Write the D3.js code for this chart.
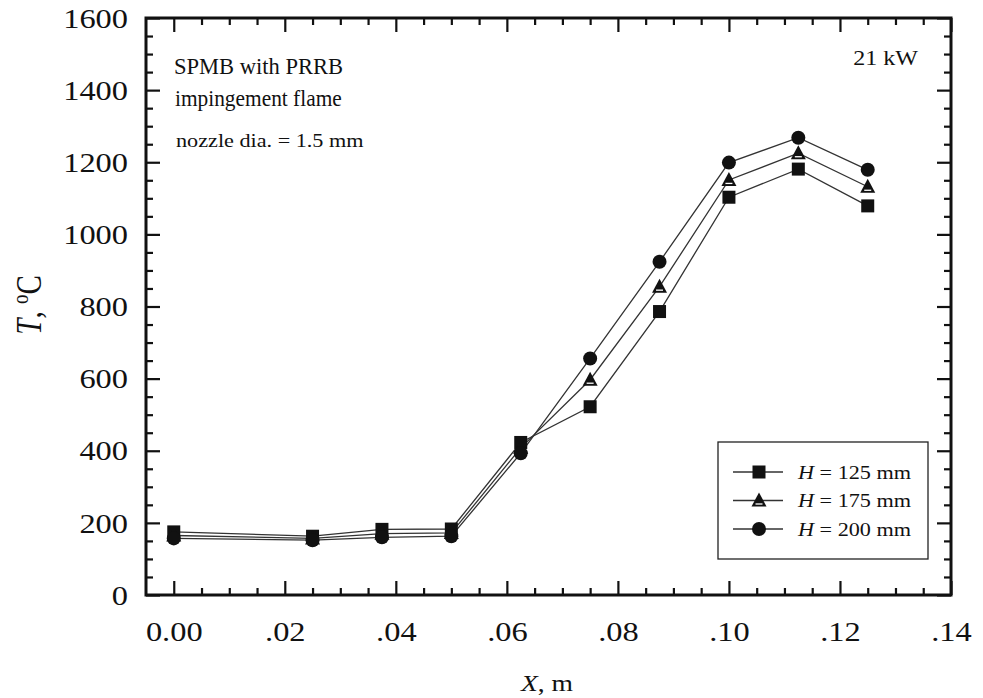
<!DOCTYPE html>
<html>
<head>
<meta charset="utf-8">
<script src="https://cdn.jsdelivr.net/npm/d3@7"></script>
<style>
  body { margin: 0; background: #fff; }
  text { font-family: "Liberation Serif", "DejaVu Serif", serif; fill: #111; }
</style>
</head>
<body>
<div class="painter"></div>
<script>
// positions along the burner, m
const xPos = [0, 0.025, 0.0375, 0.05, 0.0625, 0.075, 0.0875, 0.1, 0.1125, 0.125]
// temperatures, deg C
const tH125 = [175, 163, 182, 183, 423, 522, 786, 1103, 1181, 1079]
const tH175 = [165, 157, 170, 172, 408, 597, 855, 1151, 1225, 1132]
const tH200 = [157, 152, 160, 163, 393, 656, 924, 1199, 1268, 1179]
const seriesNames = ['125', '175', '200']
const seriesMarks = ['square', 'triangle', 'circle']

const xMajor = [0, 0.02, 0.04, 0.06, 0.08, 0.10, 0.12, 0.14]
const yMajor = [0, 200, 400, 600, 800, 1000, 1200, 1400, 1600]

const W = 983, H = 698
const plotL = 146, plotR = 951, plotT = 18, plotB = 595
const stretch = 1.2   // scanned text is a bit wide

let svg = d3.select('.painter')
    .append('svg:svg')
    .attr('width', W)
    .attr('height', H)

let x = d3.scaleLinear().domain([-0.005, 0.14]).range([plotL, plotR])
let y = d3.scaleLinear().domain([0, 1600]).range([plotB, plotT])

const xMinor = d3.range(0, 29).map(i => i * 0.005).filter(v => Math.abs(v / 0.02 - Math.round(v / 0.02)) > 1e-6)
const yMinor = d3.range(0, 33).map(i => i * 50).filter(v => v % 200 !== 0)

function xLabel(v) {
    if (v === 0) return '0.00'
    return d3.format('.2f')(v).replace(/^0/, '')
}

function addAxis(axis, tx, ty) {
    let g = svg.append('g')
        .attr('transform', `translate(${tx},${ty})`)
        .call(axis)
    g.select('.domain').remove()
    g.selectAll('line').attr('stroke', '#111').attr('stroke-width', 2.2)
    return g
}

// major ticks, inward
let gb = addAxis(d3.axisBottom(x).tickValues(xMajor).tickSize(-14).tickFormat(xLabel), 0, plotB)
addAxis(d3.axisBottom(x).tickValues(xMinor).tickSize(-7).tickFormat(''), 0, plotB)
addAxis(d3.axisTop(x).tickValues(xMajor).tickSize(-14).tickFormat(''), 0, plotT)
addAxis(d3.axisTop(x).tickValues(xMinor).tickSize(-7).tickFormat(''), 0, plotT)
let gl = addAxis(d3.axisLeft(y).tickValues(yMajor).tickSize(-14).tickFormat(d3.format('d')), plotL, 0)
addAxis(d3.axisLeft(y).tickValues(yMinor).tickSize(-7).tickFormat(''), plotL, 0)
addAxis(d3.axisRight(y).tickValues(yMajor).tickSize(-14).tickFormat(''), plotR, 0)
addAxis(d3.axisRight(y).tickValues(yMinor).tickSize(-7).tickFormat(''), plotR, 0)

gb.selectAll('text')
    .attr('y', 46).attr('dy', 0)
    .attr('font-size', 27)
    .attr('transform', `scale(${stretch},1)`)
gl.selectAll('text')
    .attr('x', -15).attr('dy', '0.34em')
    .attr('font-size', 27)
    .attr('transform', `scale(${stretch},1)`)
svg.selectAll('.tick text').attr('fill', '#111').attr('font-family', '"Liberation Serif", serif')

// frame
svg.append('rect')
    .attr('x', plotL).attr('y', plotT)
    .attr('width', plotR - plotL).attr('height', plotB - plotT)
    .attr('fill', 'none').attr('stroke', '#111').attr('stroke-width', 3)

function putText(str, px, py, size, sx = stretch, anchor = 'start') {
    return svg.append('text')
        .attr('transform', `translate(${px},${py}) scale(${sx},1)`)
        .attr('font-size', size)
        .attr('text-anchor', anchor)
        .text(str)
}

// axis titles
let xt = svg.append('text')
    .attr('transform', `translate(547,691) scale(${stretch},1)`)
    .attr('font-size', 23).attr('text-anchor', 'middle')
xt.append('tspan').attr('font-style', 'italic').text('X')
xt.append('tspan').text(', m')

let yt = svg.append('text')
    .attr('transform', `translate(41,305) rotate(-90) scale(1,${stretch})`)
    .attr('font-size', 29).attr('text-anchor', 'middle')
yt.append('tspan').attr('font-style', 'italic').text('T')
yt.append('tspan').text(', ')
yt.append('tspan').attr('font-size', 19).attr('dy', -11).text('o')
yt.append('tspan').attr('dy', 11).text('C')

// notes
putText('SPMB with PRRB', 174, 74, 23, 0.98)
putText('impingement flame', 175, 106, 23, 0.93)
putText('nozzle dia. = 1.5 mm', 176, 147, 18.5)
putText('21 kW', 918, 65, 20, stretch, 'end')

// series
const allSeries = [tH125, tH175, tH200]
let line = d3.line().x(d => x(d[0])).y(d => y(d[1]))

function drawMark(g, kind, cx, cy) {
    if (kind === 'square') {
        g.append('rect').attr('x', cx - 6.5).attr('y', cy - 6.5).attr('width', 13).attr('height', 13).attr('fill', '#111')
    } else if (kind === 'circle') {
        g.append('circle').attr('cx', cx).attr('cy', cy).attr('r', 7).attr('fill', '#111')
    } else {
        g.append('path')
            .attr('d', `M${cx} ${cy - 8} L${cx + 7.5} ${cy + 6} L${cx - 7.5} ${cy + 6} Z`)
            .attr('fill', '#111')
        g.append('line')
            .attr('x1', cx - 3.5).attr('x2', cx + 3.5).attr('y1', cy + 3.5).attr('y2', cy + 3.5)
            .attr('stroke', '#fff').attr('stroke-width', 1.3)
    }
}

allSeries.forEach(vals => {
    svg.append('path')
        .datum(xPos.map((v, i) => [v, vals[i]]))
        .attr('d', line)
        .attr('fill', 'none')
        .attr('stroke', '#333')
        .attr('stroke-width', 1.3)
})

allSeries.forEach((vals, k) => {
    let g = svg.append('g')
    xPos.forEach((v, i) => drawMark(g, seriesMarks[k], x(v), y(vals[i])))
})

// legend
svg.append('rect')
    .attr('x', 718).attr('y', 442).attr('width', 210).attr('height', 117)
    .attr('fill', '#fff').attr('stroke', '#222').attr('stroke-width', 1.3)

seriesNames.forEach((name, k) => {
    let cy = 472 + k * 28.5
    let g = svg.append('g')
    g.append('line').attr('x1', 733).attr('x2', 783).attr('y1', cy).attr('y2', cy)
        .attr('stroke', '#333').attr('stroke-width', 1.3)
    drawMark(g, seriesMarks[k], 759, cy)
    let t = svg.append('text')
        .attr('transform', `translate(798,${cy + 6.5}) scale(${stretch},1)`)
        .attr('font-size', 18.5)
    t.append('tspan').attr('font-style', 'italic').text('H')
    t.append('tspan').text(` = ${name} mm`)
})
</script>
</body>
</html>
